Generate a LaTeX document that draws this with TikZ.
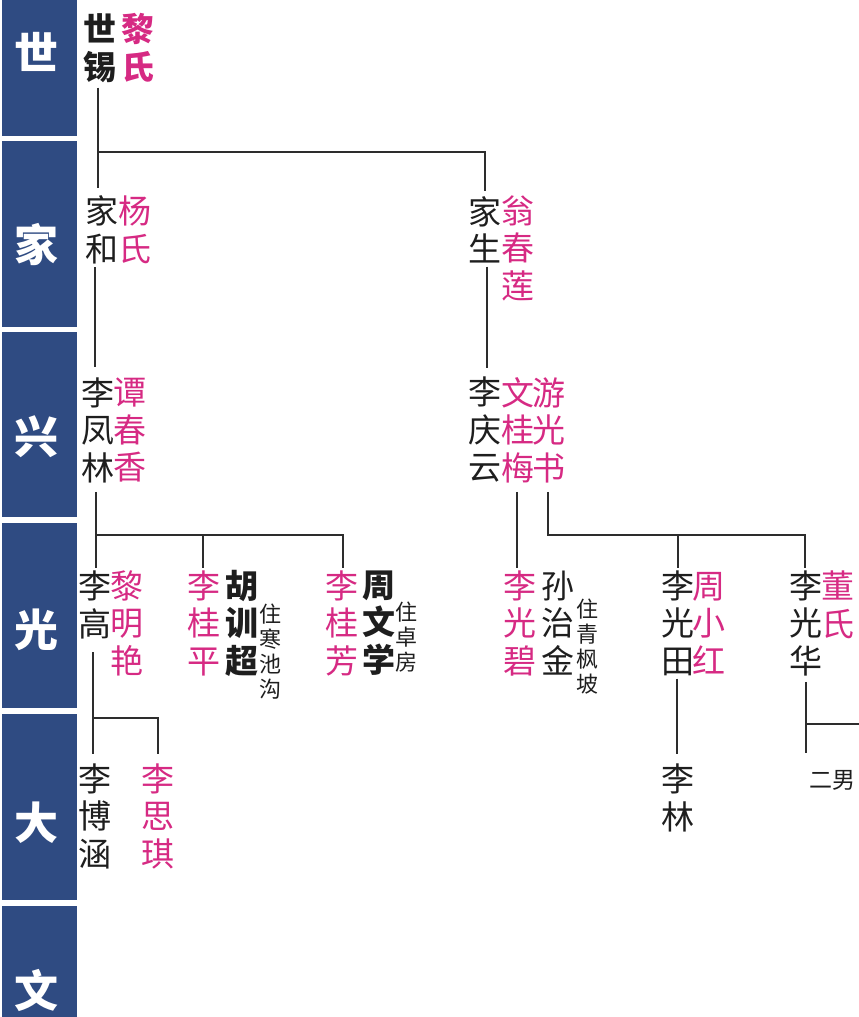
\documentclass[tikz,border=0pt]{standalone}
\usepackage{fontspec}
\newfontfamily\cjk{Noto Sans CJK SC}
\usetikzlibrary{calc}
\definecolor{blk}{RGB}{47,75,130}
\definecolor{pinkc}{RGB}{214,42,131}
\definecolor{ink}{RGB}{30,30,30}
\definecolor{linec}{RGB}{45,45,45}
\tikzset{
  nm/.style={font=\cjk\fontsize{33}{37.5}\selectfont, align=center, inner sep=0pt, text=ink},
  pnm/.style={nm, text=pinkc},
  bnm/.style={font=\cjk\bfseries\fontsize{33}{37.5}\selectfont, align=center, inner sep=0pt, text=ink},
  sm/.style={font=\cjk\fontsize{22}{25}\selectfont, align=center, inner sep=0pt, text=ink},
  gen/.style={font=\cjk\bfseries\fontsize{44}{44}\selectfont, text=white, inner sep=0pt},
  genbox/.style={fill=blk, draw=none},
  ln/.style={draw=linec, line width=2pt},
}
\begin{document}
\begin{tikzpicture}[x=1pt,y=-1pt]
\useasboundingbox (0,0) rectangle (859,1017);
\clip (0,0) rectangle (859,1017);
% generation column
\fill[genbox] (2,-50) rectangle (77,136);
\fill[genbox] (2,141) rectangle (77,327);
\fill[genbox] (2,332) rectangle (77,517);
\fill[genbox] (2,523) rectangle (77,708);
\fill[genbox] (2,714) rectangle (77,900);
\fill[genbox] (2,906) rectangle (77,1092);
\node[gen] (g1) at (36,52) {世};
\node[gen] (g2) at (36,245) {家};
\node[gen] (g3) at (36,437) {兴};
\node[gen] (g4) at (36,630) {光};
\node[gen] (g5) at (36,823) {大};
\node[gen] (g6) at (36,990) {文};
% gen 1
\node[bnm] (sx) at (100,48) {世\\锡};
\node[bnm, text=pinkc] (lsA) at (138,48) {黎\\氏};
% gen 2
\node[nm] (jh) at (102,230) {家\\和};
\node[pnm] (ys) at (135,230) {杨\\氏};
\node[nm] (js) at (485,230) {家\\生};
\node[pnm] (wcl) at (518,248) {翁\\春\\莲};
% gen 3
\node[nm] (lfl) at (98,430) {李\\凤\\林};
\node[pnm] (tcx) at (130,430) {谭\\春\\香};
\node[nm] (lqy) at (485,430) {李\\庆\\云};
\node[pnm] (wgm) at (518,430) {文\\桂\\梅};
\node[pnm] (ygs) at (549,430) {游\\光\\书};
% gen 4
\node[nm] (lg) at (95,605) {李\\高};
\node[pnm] (lmy) at (127,623) {黎\\明\\艳};
\node[pnm] (lgp) at (204,623) {李\\桂\\平};
\node[bnm] (hxc) at (242,623) {胡\\训\\超};
\node[sm] (n1) at (270,652) {住\\寒\\池\\沟};
\node[pnm] (lgf) at (342,623) {李\\桂\\芳};
\node[bnm] (zwx) at (379,623) {周\\文\\学};
\node[sm] (n2) at (406,637) {住\\卓\\房};
\node[pnm] (lgb) at (520,623) {李\\光\\碧};
\node[nm] (szj) at (558,623) {孙\\治\\金};
\node[sm] (n3) at (587,647) {住\\青\\枫\\坡};
\node[nm] (lgt) at (678,623) {李\\光\\田};
\node[pnm] (zxh) at (709,623) {周\\小\\红};
\node[nm] (lgh) at (806,623) {李\\光\\华};
\node[pnm] (ds) at (838,605) {董\\氏};
% gen 5
\node[nm] (lbh) at (95,816) {李\\博\\涵};
\node[pnm] (lsq) at (158,816) {李\\思\\琪};
\node[nm] (ll) at (678,798) {李\\林};
\node[sm, font=\cjk\fontsize{23}{25}\selectfont] (em) at (832,780) {二男};
% junctions
\coordinate (b1) at (98,152);
\coordinate (b2) at (96,535);
\coordinate (b3) at (548,535);
\coordinate (b4) at (93,718);
\coordinate (b5) at (806,724);
\coordinate (e1) at (806,753);
\coordinate (e2) at (862,724);
% connectors
\draw[ln, shorten <=5pt, shorten >=8pt] (98,0 |- sx.south) -- (98,0 |- jh.north);
\draw[ln, shorten >=5pt] (b1) -| (485,0 |- js.north);
\draw[ln, shorten <=3pt, shorten >=10pt] (95,0 |- jh.south) -- (95,0 |- lfl.north);
\draw[ln, shorten <=3pt, shorten >=9pt] (487,0 |- js.south) -- (487,0 |- lqy.north);
\draw[ln, shorten <=9pt, shorten >=3pt] (96,0 |- lfl.south) -- (96,0 |- lg.north);
\draw[ln, shorten >=2pt] (b2) -| (343,0 |- lgf.north);
\draw[ln, shorten >=2pt] (203,0 |- b2) -- (203,0 |- lgp.north);
\draw[ln, shorten <=9pt, shorten >=2pt] (517,0 |- wgm.south) -- (517,0 |- lgb.north);
\draw[ln, shorten <=9pt, shorten >=2pt] (548,0 |- ygs.south) -- (b3) -| (805,0 |- lgh.north);
\draw[ln, shorten >=2pt] (678,0 |- b3) -- (678,0 |- lgt.north);
\draw[ln, shorten <=13pt, shorten >=9pt] (93,0 |- lg.south) -- (93,0 |- lbh.north);
\draw[ln, shorten >=9pt] (b4) -| (158,0 |- lsq.north);
\draw[ln, shorten <=3pt, shorten >=10pt] (677,0 |- lgt.south) -- (677,0 |- ll.north);
\draw[ln, shorten <=6pt] (806,0 |- lgh.south) -- (e1);
\draw[ln] (b5) -- (e2);
\end{tikzpicture}
\end{document}
